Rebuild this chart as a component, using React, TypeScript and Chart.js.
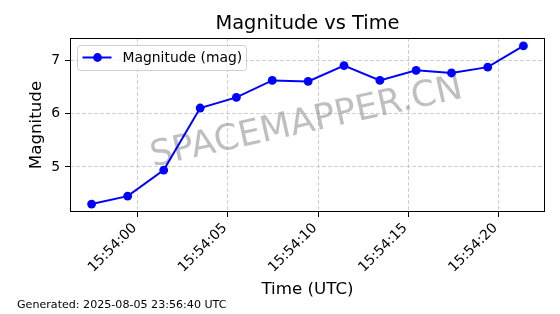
import React, { useEffect, useRef } from "react";
import { Chart, registerables } from "chart.js";

Chart.register(...registerables);

// ---- data ----
const times = [
  "15:53:57.44", "15:53:59.44", "15:54:01.44", "15:54:03.46", "15:54:05.47",
  "15:54:07.46", "15:54:09.45", "15:54:11.44", "15:54:13.43", "15:54:15.44",
  "15:54:17.40", "15:54:19.41", "15:54:21.39",
];
const magnitudes = [4.30, 4.45, 4.94, 6.11, 6.31, 6.63, 6.61, 6.91, 6.63, 6.82, 6.77, 6.88, 7.28];
const timeOrigin = "15:54:00";
const xTickStepSeconds = 5;
const yTickStep = 1;

const chartTitle = "Magnitude vs Time";
const xAxisTitle = "Time (UTC)";
const yAxisTitle = "Magnitude";
const seriesLabel = "Magnitude (mag)";
const watermark = "SPACEMAPPER.CN";
const footer = "Generated: 2025-08-05 23:56:40 UTC";

const FONT = "'DejaVu Sans', sans-serif";

function toSec(t: string): number {
  const [h, m, s] = t.split(":").map(Number);
  return h * 3600 + m * 60 + s;
}
const originSec = toSec(timeOrigin);
function fmt(v: number): string {
  let total = Math.round(originSec + v);
  const h = Math.floor(total / 3600);
  total -= h * 3600;
  const m = Math.floor(total / 60);
  const s = total - m * 60;
  const p = (n: number) => String(n).padStart(2, "0");
  return `${p(h)}:${p(m)}:${p(s)}`;
}

export default function App() {
  const ref = useRef<HTMLCanvasElement | null>(null);

  useEffect(() => {
    if (!ref.current) return;
    const pts = times.map((t, i) => ({ x: toSec(t) - originSec, y: magnitudes[i] }));
    const xs = pts.map((p) => p.x);
    const ys = pts.map((p) => p.y);
    const xr = Math.max(...xs) - Math.min(...xs);
    const yr = Math.max(...ys) - Math.min(...ys);
    const xMin = Math.min(...xs) - 0.05 * xr;
    const xMax = Math.max(...xs) + 0.05 * xr;
    const yMin = Math.min(...ys) - 0.05 * yr;
    const yMax = Math.max(...ys) + 0.05 * yr;

    const decor = {
      id: "decor",
      beforeDatasetsDraw(chart: any) {
        const { ctx, chartArea: a } = chart;
        ctx.save();
        ctx.translate((a.left + a.right) / 2 - 1, (a.top + a.bottom) / 2 - 2);
        ctx.rotate((-12.5 * Math.PI) / 180);
        ctx.font = `35.5px ${FONT}`;
        ctx.fillStyle = "rgba(128,128,128,0.5)";
        ctx.textAlign = "center";
        ctx.textBaseline = "middle";
        ctx.fillText(watermark, 0, 0);
        ctx.restore();
      },
      afterDraw(chart: any) {
        const { ctx, chartArea: a } = chart;
        ctx.save();
        // frame
        ctx.strokeStyle = "#000";
        ctx.lineWidth = 1;
        ctx.strokeRect(Math.round(a.left) + 0.5, Math.round(a.top) + 0.5,
          Math.round(a.right - a.left) - 1, Math.round(a.bottom - a.top) - 1);
        // legend
        const lx = a.left + 7.5, ly = a.top + 7.5, lw = 169, lh = 25;
        ctx.beginPath();
        (ctx as any).roundRect(lx, ly, lw, lh, 3);
        ctx.fillStyle = "rgba(255,255,255,0.8)";
        ctx.fill();
        ctx.strokeStyle = "#d0d0d0";
        ctx.stroke();
        const cy = ly + 12;
        ctx.strokeStyle = "#0000ff";
        ctx.lineWidth = 2;
        ctx.beginPath();
        ctx.moveTo(lx + 5, cy);
        ctx.lineTo(lx + 34, cy);
        ctx.stroke();
        ctx.fillStyle = "#0000ff";
        ctx.beginPath();
        ctx.arc(lx + 20, cy, 4.4, 0, Math.PI * 2);
        ctx.fill();
        ctx.fillStyle = "#000";
        ctx.font = `13.9px ${FONT}`;
        ctx.textAlign = "left";
        ctx.textBaseline = "middle";
        ctx.fillText(seriesLabel, lx + 45, cy + 1);
        // title
        ctx.font = `19.4px ${FONT}`;
        ctx.textAlign = "center";
        ctx.textBaseline = "alphabetic";
        ctx.fillText(chartTitle, (a.left + a.right) / 2, a.top - 9);
        // x title
        ctx.font = `16.7px ${FONT}`;
        ctx.textBaseline = "middle";
        ctx.fillText(xAxisTitle, (a.left + a.right) / 2, 290);
        // y title
        ctx.save();
        ctx.translate(37, (a.top + a.bottom) / 2);
        ctx.rotate(-Math.PI / 2);
        ctx.fillText(yAxisTitle, 0, 0);
        ctx.restore();
        // footer
        ctx.font = `11.1px ${FONT}`;
        ctx.textAlign = "left";
        ctx.fillText(footer, 17, 305);
        ctx.restore();
      },
    };

    const chart = new Chart(ref.current, {
      type: "line",
      data: {
        datasets: [
          {
            label: seriesLabel,
            data: pts,
            borderColor: "#0000ff",
            backgroundColor: "#0000ff",
            borderWidth: 2,
            pointRadius: 4.4,
            pointBorderWidth: 0,
            pointBackgroundColor: "#0000ff",
            tension: 0,
          },
        ],
      },
      options: {
        responsive: false,
        animation: false,
        layout: { padding: { top: 38, right: 15, left: 0, bottom: 0 } },
        plugins: { legend: { display: false }, title: { display: false }, tooltip: { enabled: false } },
        scales: {
          x: {
            type: "linear",
            min: xMin,
            max: xMax,
            afterFit: (s: any) => { s.height = 102; },
            border: { display: false, dash: [4, 2] },
            grid: { color: "rgba(176,176,176,0.6)", tickColor: "#000", tickLength: 5, lineWidth: 1 },
            ticks: {
              stepSize: xTickStepSeconds,
              includeBounds: false,
              autoSkip: false,
              maxRotation: 45,
              minRotation: 45,
              padding: 3,
              labelOffset: -3,
              color: "#000",
              font: { family: FONT, size: 13.9 },
              callback: (v: any) => fmt(Number(v)),
            },
          },
          y: {
            min: yMin,
            max: yMax,
            afterFit: (s: any) => { s.width = 70; },
            border: { display: false, dash: [4, 2] },
            grid: { color: "rgba(176,176,176,0.6)", tickColor: "#000", tickLength: 5, lineWidth: 1 },
            ticks: {
              stepSize: yTickStep,
              includeBounds: false,
              padding: 5,
              color: "#000",
              font: { family: FONT, size: 13.9 },
            },
          },
        },
      },
      plugins: [decor],
    } as any);
    return () => chart.destroy();
  }, []);

  return (
    <div style={{ position: "absolute", left: 0, top: 0, width: 560, height: 314, background: "#fff" }}>
      <canvas ref={ref} width={560} height={314} style={{ display: "block" }} />
    </div>
  );
}
